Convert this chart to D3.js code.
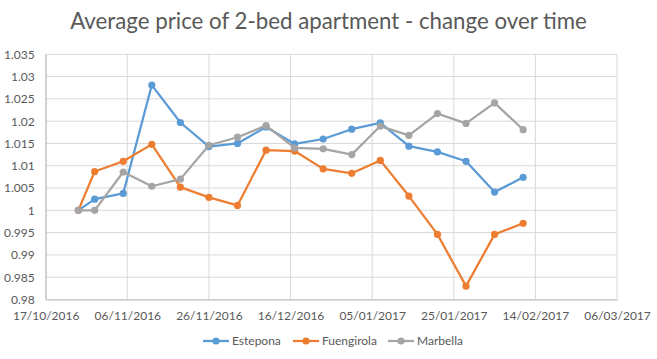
<!DOCTYPE html>
<html>
<head>
<meta charset="utf-8">
<script src="https://cdn.jsdelivr.net/npm/d3@7"></script>
<style>
  html, body { margin: 0; padding: 0; background: #fff; }
  svg { display: block; font-family: Lato, "Open Sans", sans-serif; }
</style>
</head>
<body>
<svg id="chart" width="657" height="359"></svg>
<script>
const title = "Average price of 2-bed apartment - change over time";
const dates = ["2016-10-25","2016-10-29","2016-11-05","2016-11-12","2016-11-19","2016-11-26",
  "2016-12-03","2016-12-10","2016-12-17","2016-12-24","2016-12-31","2017-01-07","2017-01-14",
  "2017-01-21","2017-01-28","2017-02-04","2017-02-11"];
const estepona = [1.0, 1.0025, 1.0038, 1.0281, 1.0197, 1.0143, 1.015, 1.0187, 1.0149, 1.016,
  1.0182, 1.0196, 1.0144, 1.0131, 1.011, 1.0041, 1.0074];
const fuengirola = [1.0, 1.0087, 1.011, 1.0148, 1.0052, 1.0029, 1.0011, 1.0135, 1.0133, 1.0093,
  1.0083, 1.0112, 1.0032, 0.9946, 0.983, 0.9946, 0.9971];
const marbella = [1.0, 1.0, 1.0086, 1.0054, 1.007, 1.0146, 1.0164, 1.019, 1.014, 1.0138,
  1.0125, 1.0189, 1.0168, 1.0217, 1.0195, 1.0241, 1.0181];
const seriesNames = ["Estepona", "Fuengirola", "Marbella"];
const seriesColors = ["#5B9BD5", "#ED7D31", "#A5A5A5"];
const yTicks = [0.98, 0.985, 0.99, 0.995, 1, 1.005, 1.01, 1.015, 1.02, 1.025, 1.03, 1.035];
const xTickLabels = ["17/10/2016","06/11/2016","26/11/2016","16/12/2016","05/01/2017","25/01/2017","14/02/2017","06/03/2017"];

const parse = d3.timeParse("%Y-%m-%d");
const parseTick = d3.timeParse("%d/%m/%Y");
const fmtTick = d3.timeFormat("%d/%m/%Y");
const xDates = dates.map(parse);
const tickDates = xTickLabels.map(parseTick);
const allSeries = [estepona, fuengirola, marbella];

const svg = d3.select("#chart");
const L = 45.7, R = 617, T = 54.3, B = 299.5;

const x = d3.scaleTime().domain([tickDates[0], tickDates[tickDates.length - 1]]).range([L, R]);
const y = d3.scaleLinear().domain([0.98, 1.035]).range([B, T]);

// gridlines
const grid = svg.append("g");
grid.selectAll("line.h").data(yTicks).join("line")
  .attr("x1", L).attr("x2", R)
  .attr("y1", d => y(d)).attr("y2", d => y(d))
  .attr("stroke", "#D9D9D9").attr("stroke-width", 1);
grid.selectAll("line.v").data(tickDates).join("line")
  .attr("x1", d => x(d)).attr("x2", d => x(d))
  .attr("y1", T).attr("y2", B)
  .attr("stroke", "#D9D9D9").attr("stroke-width", 1);

// axes
const yAxis = d3.axisLeft(y).tickValues(yTicks).tickSize(0).tickPadding(11)
  .tickFormat(d => d3.format("")(+d.toFixed(3)));
const gy = svg.append("g").attr("transform", `translate(${L},0)`).call(yAxis);
gy.select(".domain").attr("stroke", "#BFBFBF");
gy.selectAll("text").attr("fill", "#595959").style("font-size", "12px").style("font-family", "Lato, sans-serif");

const xAxis = d3.axisBottom(x).tickValues(tickDates).tickSize(0).tickPadding(12)
  .tickFormat(fmtTick);
const gx = svg.append("g").attr("transform", `translate(0,${B})`).call(xAxis);
gx.select(".domain").attr("stroke", "#BFBFBF");
gx.selectAll("text").attr("fill", "#595959").style("font-size", "12px").style("font-family", "Lato, sans-serif");

// series
const line = d3.line().x((d, i) => x(xDates[i])).y(d => y(d));
allSeries.forEach((s, k) => {
  const g = svg.append("g");
  g.append("path").datum(s).attr("d", line)
    .attr("fill", "none").attr("stroke", seriesColors[k]).attr("stroke-width", 2.25)
    .attr("stroke-linejoin", "round");
  g.selectAll("circle").data(s).join("circle")
    .attr("cx", (d, i) => x(xDates[i])).attr("cy", d => y(d)).attr("r", 3.6)
    .attr("fill", seriesColors[k]);
});

// title
const t = svg.append("text").attr("x", 328.5).attr("y", 29).attr("text-anchor", "middle")
  .attr("fill", "#595959").style("font-size", "19px").text(title);
const w = t.node().getComputedTextLength();
t.style("font-size", (19 * 517 / w) + "px");

// legend
const legendX = [203, 293, 388];
const legendY = 341;
seriesNames.forEach((n, k) => {
  const g = svg.append("g").attr("transform", `translate(${legendX[k]},${legendY})`);
  g.append("line").attr("x1", 0).attr("x2", 26).attr("y1", 0).attr("y2", 0)
    .attr("stroke", seriesColors[k]).attr("stroke-width", 2.25);
  g.append("circle").attr("cx", 13).attr("cy", 0).attr("r", 3.6).attr("fill", seriesColors[k]);
  g.append("text").attr("x", 29).attr("y", 4.3).attr("fill", "#595959")
    .style("font-size", "12px").text(n);
});
</script>
</body>
</html>
